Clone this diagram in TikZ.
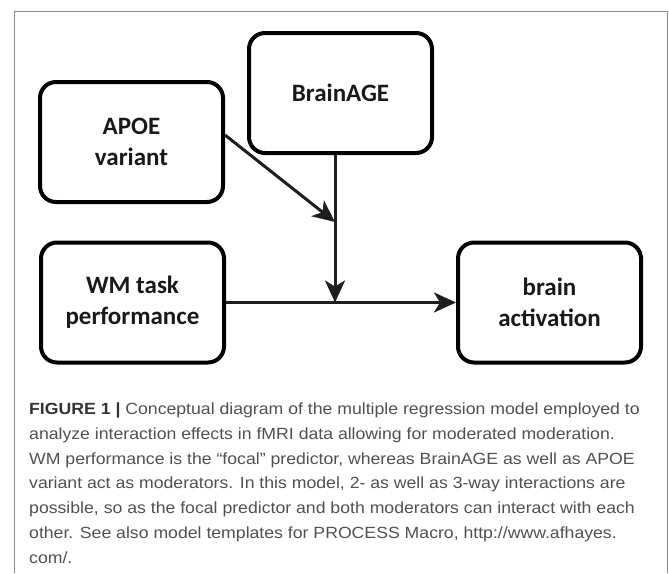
\documentclass[tikz,border=0pt]{standalone}
\usepackage{fontspec}
\setmainfont{Carlito}
\newfontfamily\capfont[FakeStretch=1.09]{Liberation Sans}
\usetikzlibrary{arrows.meta}
\definecolor{linegray}{HTML}{1E1E1E}
\definecolor{capgray}{HTML}{505050}
\definecolor{framegray}{HTML}{8C8C8C}

\begin{document}
\begin{tikzpicture} [x=1pt, y=-1pt,
    box/.style={draw, line width=4pt, rounded corners=16pt, minimum width=183pt, minimum height=120pt, align=center, font=\fontsize{25}{31}\selectfont\bfseries, text=black!90},
    link/.style={draw=linegray, line width=3pt, -{Stealth[length=22pt, width=20pt, inset=6pt]}}]
    \useasboundingbox (0,0) rectangle (669,573);
    \draw[framegray, line width=1pt] (14,573) -- (14,11) -- (667,11) -- (667,573);
    \node[box] (brainage) at (340.5, 93) {BrainAGE};
    \node[box] (apoe) at (131.5, 142) {APOE\\variant};
    \node[box] (wm) at (132.5, 302.5) {WM task\\performance};
    \node[box] (act) at (549.5, 302.5) {brain\\activation};
    \coordinate (mod) at (335, 222);
    \coordinate (join) at (335, 302.5);
    \draw[link] ([yshift=7pt]apoe.east) -- (mod);
    \draw[link] (brainage.south -| join) -- (join);
    \draw[link] (wm.east) -- (act.west);
    % caption, anchored at the last line
    \node[anchor=base west, inner sep=0pt, align=left, text=capgray, font=\capfont\fontsize{16.2}{24.7}\selectfont] (caption) at (29, 563)
      {\textbf{\color{black!80}FIGURE 1 |} Conceptual diagram of the multiple regression model employed to\\
       analyze interaction effects in fMRI data allowing for moderated moderation.\\
       WM performance is the “focal” predictor, whereas BrainAGE as well as APOE\\
       variant act as moderators. In this model, 2- as well as 3-way interactions are\\
       possible, so as the focal predictor and both moderators can interact with each\\
       other. See also model templates for PROCESS Macro, http://www.afhayes.\\
       com/.};
  \end{tikzpicture}
\end{document}
